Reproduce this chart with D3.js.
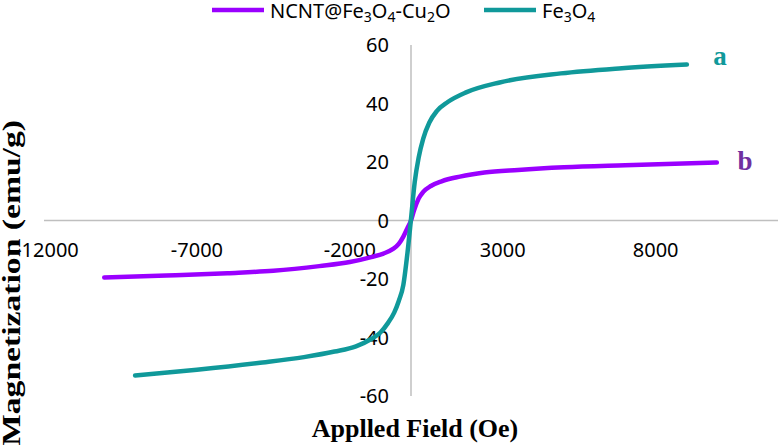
<!DOCTYPE html>
<html>
<head>
<meta charset="utf-8">
<script src="https://cdn.jsdelivr.net/npm/d3@7/dist/d3.min.js"></script>
<style>
  html, body { margin: 0; padding: 0; background: #fff; }
  svg { display: block; }
</style>
</head>
<body>
<div id="chart"></div>
<script>
(function () {
  "use strict";

  const WIDTH = 779;
  const HEIGHT = 445;
  const TEAL = "#10999A";
  const PURPLE = "#9A00FF";
  const AXIS_COLOR = "#BFBFBF";
  const TICK_FONT = "'Noto Sans', 'Open Sans', sans-serif";
  const TITLE_FONT = "'Liberation Serif', 'DejaVu Serif', serif";

  /* ---- data ---- */
  const feField = [-9020, -7000, -5000, -3500, -2500, -1800, -1300, -1000, -750, -550, -400, -250, -120, 0,
                   120, 250, 400, 600, 850, 1200, 1800, 2900, 4900, 6800, 9020];
  const feMag = [-53.0, -51.0, -48.7, -46.7, -44.8, -43.0, -40.5, -38.3, -35.0, -31.5, -27.5, -22.0, -11.5, 0.5,
                 13.0, 21.5, 28.0, 33.5, 37.5, 40.5, 43.8, 47.2, 50.3, 52.0, 53.3];

  const ncntField = [-10030, -8000, -6000, -4500, -3000, -2000, -1300, -900, -600, -400, -250, -100, 0,
                     100, 250, 400, 650, 1000, 1600, 2400, 3500, 5000, 7000, 10000];
  const ncntMag = [-19.5, -18.8, -18.0, -17.2, -15.6, -14.2, -12.5, -11.3, -9.8, -8.0, -5.5, -2.2, 0,
                   3.5, 7.5, 9.8, 11.8, 13.4, 15.0, 16.4, 17.3, 18.2, 18.9, 19.8];

  const xTicks = [-12000, -7000, -2000, 3000, 8000];
  const yTicks = [-60, -40, -20, 0, 20, 40, 60];

  const svg = d3.select("#chart").append("svg")
    .attr("width", WIDTH).attr("height", HEIGHT);

  const x = d3.scaleLinear().domain([-12000, 12000]).range([44, 778]);
  const y = d3.scaleLinear().domain([-60, 60]).range([396, 45]);

  /* ---- axes crossing at zero ---- */
  svg.append("line")
    .attr("x1", x(-12000)).attr("x2", x(12000))
    .attr("y1", y(0)).attr("y2", y(0))
    .attr("stroke", AXIS_COLOR).attr("stroke-width", 1.5);
  svg.append("line")
    .attr("x1", x(0)).attr("x2", x(0))
    .attr("y1", y(60)).attr("y2", y(-60))
    .attr("stroke", AXIS_COLOR).attr("stroke-width", 1.5);

  /* x tick labels, sitting just under the zero line */
  svg.append("g").selectAll("text")
    .data(xTicks).enter().append("text")
    .attr("x", function (d) { return x(d) + (d === -12000 ? 3 : 0); })
    .attr("y", y(0) + 36)
    .attr("text-anchor", "middle")
    .style("font-family", TICK_FONT).style("font-size", "20px").attr("fill", "#000")
    .text(function (d) { return String(d); });

  /* y tick labels, left of the zero line */
  svg.append("g").selectAll("text")
    .data(yTicks).enter().append("text")
    .attr("x", x(0) - 22)
    .attr("y", function (d) { return y(d); })
    .attr("dy", "0.35em")
    .attr("text-anchor", "end")
    .style("font-family", TICK_FONT).style("font-size", "20px").attr("fill", "#000")
    .text(function (d) { return String(d); });

  /* ---- curves ---- */
  const line = d3.line()
    .x(function (d) { return x(d[0]); })
    .y(function (d) { return y(d[1]); })
    .curve(d3.curveMonotoneX);

  svg.append("path")
    .datum(ncntField.map(function (f, i) { return [f, ncntMag[i]]; }))
    .attr("d", line)
    .attr("fill", "none").attr("stroke", PURPLE)
    .attr("stroke-width", 4.5).attr("stroke-linecap", "round");

  svg.append("path")
    .datum(feField.map(function (f, i) { return [f, feMag[i]]; }))
    .attr("d", line)
    .attr("fill", "none").attr("stroke", TEAL)
    .attr("stroke-width", 4.5).attr("stroke-linecap", "round");

  /* curve labels */
  svg.append("text").attr("x", 720).attr("y", 65).attr("text-anchor", "middle")
    .style("font-family", TITLE_FONT).style("font-weight", "bold").style("font-size", "27px")
    .attr("fill", TEAL).text("a");
  svg.append("text").attr("x", 745).attr("y", 170).attr("text-anchor", "middle")
    .style("font-family", TITLE_FONT).style("font-weight", "bold").style("font-size", "27px")
    .attr("fill", "#7030A0").text("b");

  /* ---- axis titles ---- */
  svg.append("text")
    .attr("x", 415).attr("y", 437)
    .attr("text-anchor", "middle")
    .style("font-family", TITLE_FONT).style("font-weight", "bold").style("font-size", "26px")
    .text("Applled Field (Oe)");

  svg.append("text")
    .attr("transform", "translate(20,283) rotate(-90)")
    .attr("text-anchor", "middle")
    .attr("textLength", 326).attr("lengthAdjust", "spacingAndGlyphs")
    .style("font-family", TITLE_FONT).style("font-weight", "bold").style("font-size", "26px")
    .text("Magnetization (emu/g)");

  /* ---- legend ---- */
  function chem(sel, parts) {
    let shifted = false;
    parts.forEach(function (p) {
      if (typeof p === "string") {
        sel.append("tspan").attr("dy", shifted ? -4 : 0).text(p);
        shifted = false;
      } else {
        sel.append("tspan").attr("dy", 4).style("font-size", "14px").text(p[0]);
        shifted = true;
      }
    });
  }

  const legendItems = [
    { color: PURPLE, x: 212, parts: ["NCNT@Fe", ["3"], "O", ["4"], "-Cu", ["2"], "O"] },
    { color: TEAL, x: 484, parts: ["Fe", ["3"], "O", ["4"]] }
  ];
  const legend = svg.append("g");
  legendItems.forEach(function (it) {
    legend.append("line")
      .attr("x1", it.x).attr("x2", it.x + 52)
      .attr("y1", 10).attr("y2", 10)
      .attr("stroke", it.color).attr("stroke-width", 4.5);
    const t = legend.append("text")
      .attr("x", it.x + 58).attr("y", 18)
      .style("font-family", TICK_FONT).style("font-size", "20px").attr("fill", "#000");
    chem(t, it.parts);
  });
})();
</script>
</body>
</html>
